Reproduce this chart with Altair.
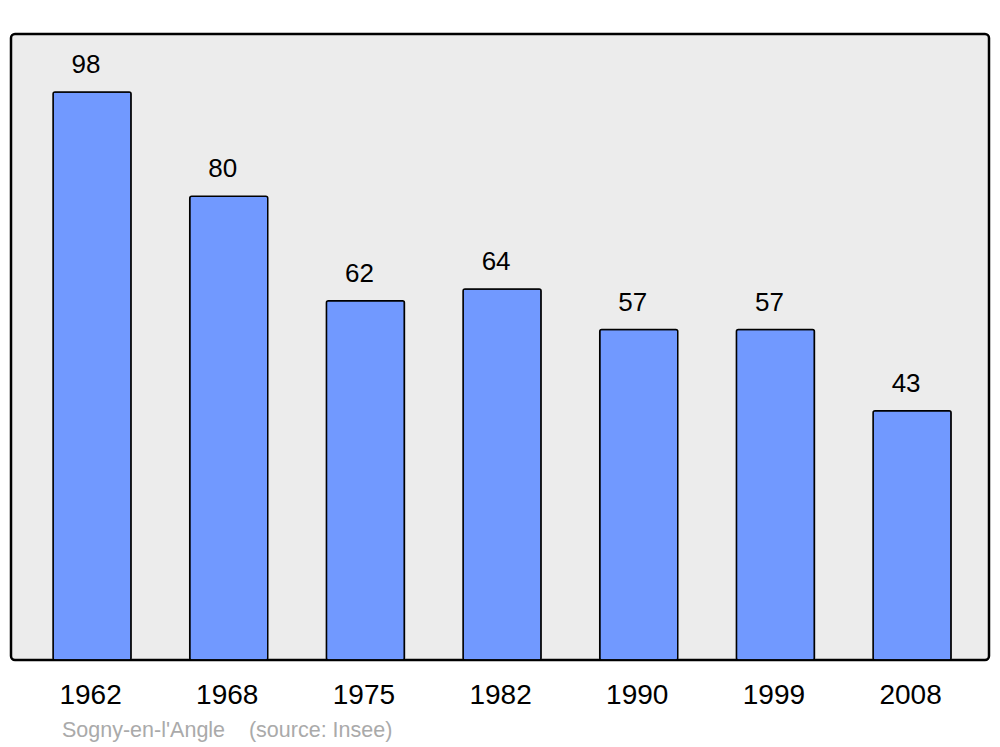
import altair as alt
import pandas as pd

years = ["1962", "1968", "1975", "1982", "1990", "1999", "2008"]
population = [98, 80, 62, 64, 57, 57, 43]
source_text = ["Sogny-en-l'Angle\u00a0\u00a0\u00a0\u00a0(source: Insee)"]

df = pd.DataFrame({"year": years, "pop": population})
src = pd.DataFrame({"t": source_text})

x = alt.X("year:N", sort=years,
          scale=alt.Scale(paddingInner=0.429, paddingOuter=0.2925, align=0.526),
          axis=alt.Axis(title=None, labelAngle=0, domain=False, ticks=False,
                        labelFontSize=28, labelFont="Liberation Sans",
                        labelColor="black", labelPadding=21, labelOffset=-1.5))
y = alt.Y("pop:Q", scale=alt.Scale(domain=[0, 108], nice=False), axis=None)

bars = alt.Chart(df).mark_bar(
    color="#7199ff", stroke="black", strokeWidth=1.5, cornerRadius=2
).encode(x=x, y=y)

labels = alt.Chart(df).mark_text(
    font="Liberation Sans", fontSize=26, color="black", baseline="alphabetic",
    dy=-19, dx=-6
).encode(x=x, y=y, text="pop:Q")

source = alt.Chart(src).mark_text(
    font="Liberation Sans", fontSize=21.5, color="#aaaaaa", align="left", baseline="middle"
).encode(x=alt.value(51), y=alt.value(697), text="t:N")

chart = alt.layer(bars, labels, source).properties(
    width=978, height=626,
    autosize=alt.AutoSizeParams(type="none"),
    padding={"left": 3, "top": 26, "right": 3, "bottom": 85},
).configure_view(
    fill="#ececec", stroke="black", strokeWidth=2.5, cornerRadius=4
)

chart.save("out.html", embed_options={"renderer": "svg", "actions": False})
